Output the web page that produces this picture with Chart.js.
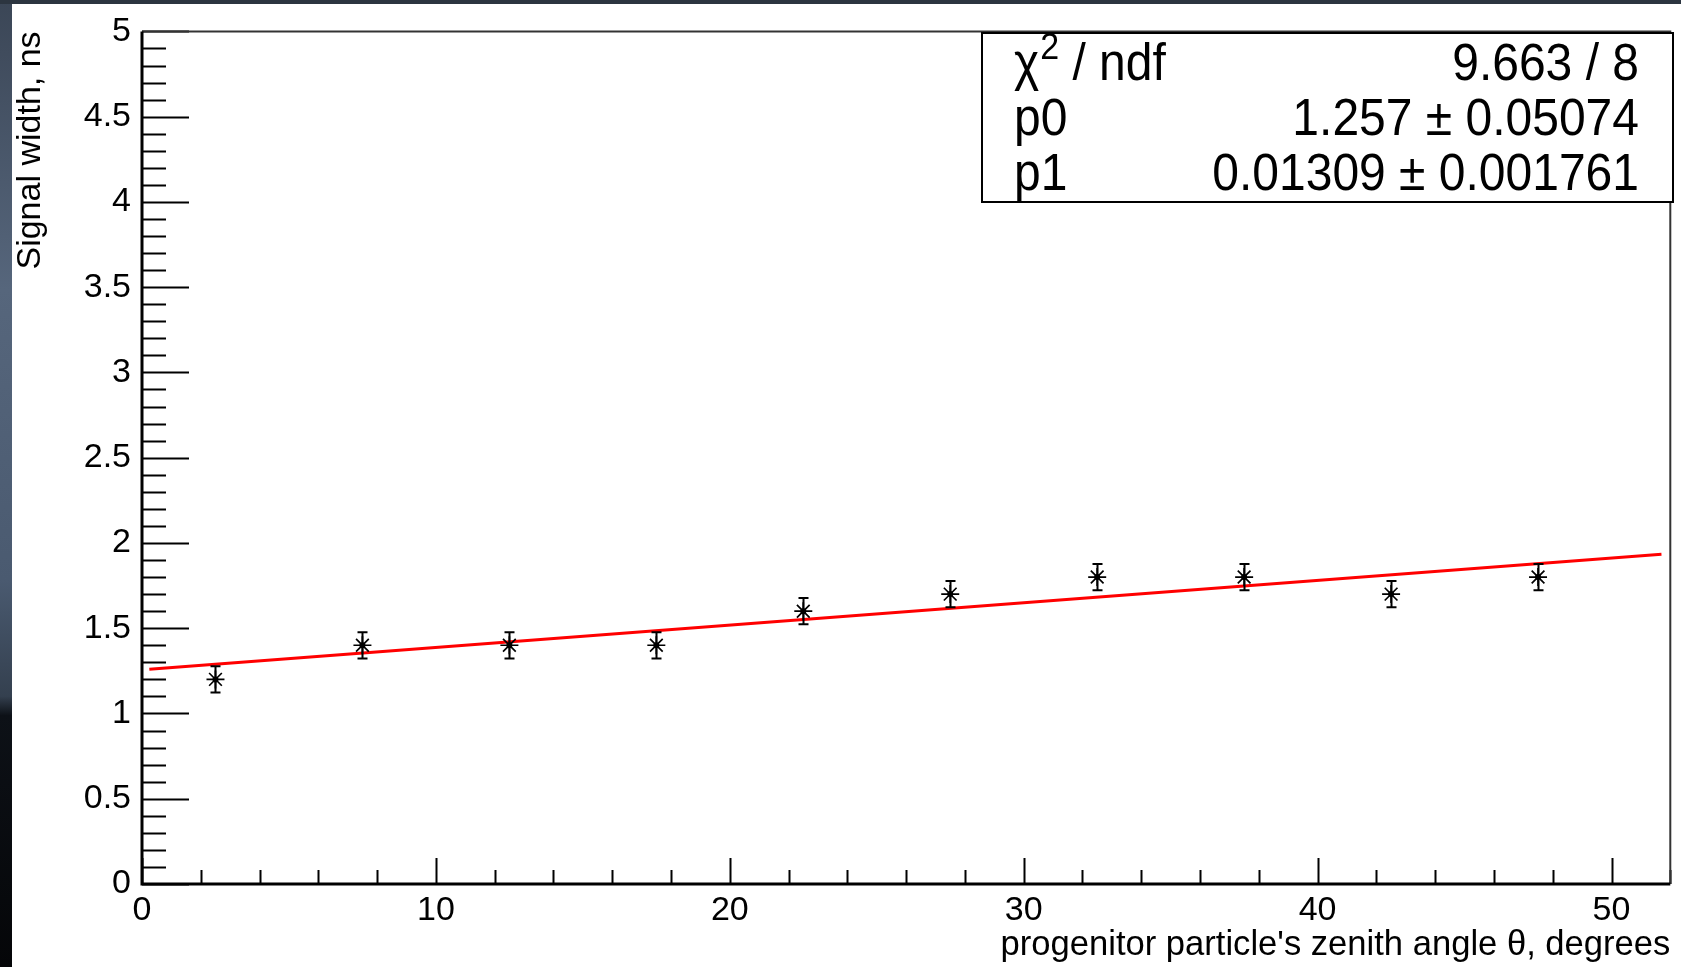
<!DOCTYPE html>
<html>
<head>
<meta charset="utf-8">
<script src="https://cdn.jsdelivr.net/npm/chart.js@4.4.1/dist/chart.umd.min.js"></script>
<style>
  html, body { margin: 0; padding: 0; background: #fff; }
  canvas { display: block; }
</style>
</head>
<body>
<canvas id="plot" width="1681" height="967"></canvas>
<script>
// zenith angle bin centres (degrees) and mean signal width (ns)
const angles = [2.5, 7.5, 12.5, 17.5, 22.5, 27.5, 32.5, 37.5, 42.5, 47.5];
const widths = [1.2, 1.4, 1.4, 1.4, 1.6, 1.7, 1.8, 1.8, 1.7, 1.8];
const widthErrors = [0.077, 0.077, 0.077, 0.077, 0.077, 0.077, 0.077, 0.077, 0.077, 0.077];

// pol1 fit line, as drawn
const fitX = [0.25, 51.7];
const fitY = [1.260, 1.934];

const xTicks = [0, 10, 20, 30, 40, 50];
const yTicks = [0, 0.5, 1, 1.5, 2, 2.5, 3, 3.5, 4, 4.5, 5];

const statNames = ['χ', 'p0', 'p1'];
const statValues = ['9.663 / 8', '1.257 ± 0.05074', '0.01309 ± 0.001761'];

const FONT = '"Liberation Sans", Arial, Helvetica, sans-serif';

// photo background peeking out at the left and top edges
const backdrop = {
  id: 'backdrop',
  beforeDraw(chart) {
    const ctx = chart.ctx;
    ctx.save();
    ctx.fillStyle = '#fff';
    ctx.fillRect(0, 0, chart.width, chart.height);
    const g = ctx.createLinearGradient(0, 0, 0, chart.height);
    g.addColorStop(0, '#3b4656');
    g.addColorStop(0.3, '#56667c');
    g.addColorStop(0.6, '#4a5a70');
    g.addColorStop(0.72, '#34404f');
    g.addColorStop(0.74, '#0d1117');
    g.addColorStop(1, '#050608');
    ctx.fillStyle = g;
    ctx.fillRect(0, 0, 12, chart.height);
    ctx.fillStyle = '#2c3540';
    ctx.fillRect(0, 0, chart.width, 4);
    ctx.restore();
  }
};

// ROOT style frame with ticks pointing inwards
const frame = {
  id: 'frame',
  beforeDatasetsDraw(chart) {
    const { ctx, chartArea: a, scales: { x, y } } = chart;
    ctx.save();
    ctx.strokeStyle = '#000';
    ctx.lineWidth = 2;
    ctx.beginPath();
    for (let i = 0; i <= 50; i++) {
      const py = Math.round(y.getPixelForValue(i / 10)) + 0.5;
      const len = i % 5 === 0 ? 47 : 24;
      ctx.moveTo(a.left, py);
      ctx.lineTo(a.left + len, py);
    }
    for (let v = 0; v <= 52; v += 2) {
      const px = Math.round(x.getPixelForValue(v)) + 0.5;
      const len = v % 10 === 0 ? 26 : 14;
      ctx.moveTo(px, a.bottom);
      ctx.lineTo(px, a.bottom - len);
    }
    ctx.stroke();

    ctx.strokeStyle = '#333';
    ctx.lineWidth = 2;
    ctx.beginPath();
    ctx.moveTo(a.left, a.top);
    ctx.lineTo(a.right, a.top);
    ctx.lineTo(a.right, a.bottom);
    ctx.stroke();
    ctx.strokeStyle = '#000';
    ctx.lineWidth = 3;
    ctx.beginPath();
    ctx.moveTo(a.left, a.top);
    ctx.lineTo(a.left, a.bottom);
    ctx.lineTo(a.right, a.bottom);
    ctx.stroke();
    ctx.restore();
  }
};

const errorBars = {
  id: 'errorBars',
  afterDatasetsDraw(chart) {
    const { ctx, scales: { x, y } } = chart;
    ctx.save();
    ctx.strokeStyle = '#000';
    ctx.lineWidth = 2;
    ctx.beginPath();
    angles.forEach((a, i) => {
      const px = Math.round(x.getPixelForValue(a)) + 0.5;
      const top = y.getPixelForValue(widths[i] + widthErrors[i]);
      const bot = y.getPixelForValue(widths[i] - widthErrors[i]);
      ctx.moveTo(px, top); ctx.lineTo(px, bot);
      ctx.moveTo(px - 5, top); ctx.lineTo(px + 5, top);
      ctx.moveTo(px - 5, bot); ctx.lineTo(px + 5, bot);
    });
    ctx.stroke();
    ctx.restore();
  }
};

const statsBox = {
  id: 'statsBox',
  afterDraw(chart) {
    const ctx = chart.ctx;
    const box = { left: 982, top: 33, right: 1673, bottom: 202 };
    const baselines = [80, 135, 190];
    ctx.save();
    ctx.fillStyle = '#fff';
    ctx.fillRect(box.left, box.top, box.right - box.left, box.bottom - box.top);
    ctx.strokeStyle = '#000';
    ctx.lineWidth = 2;
    ctx.strokeRect(box.left, box.top, box.right - box.left, box.bottom - box.top);
    ctx.fillStyle = '#000';
    ctx.textBaseline = 'alphabetic';
    statNames.forEach((name, i) => {
      ctx.save();
      // ROOT text is a little taller than Liberation at the same width
      ctx.translate(0, baselines[i]);
      ctx.scale(1, 1.08);
      ctx.font = '48px ' + FONT;
      ctx.textAlign = 'left';
      ctx.fillText(name, 1014, 0);
      if (i === 0) {
        const w = ctx.measureText(name).width;
        ctx.font = '34px ' + FONT;
        ctx.fillText('2', 1014 + w + 1, -19);
        const w2 = ctx.measureText('2').width;
        ctx.font = '48px ' + FONT;
        ctx.fillText(' / ndf', 1014 + w + w2 + 1, 0);
      }
      ctx.textAlign = 'right';
      ctx.fillText(statValues[i], 1639, 0);
      ctx.restore();
    });
    ctx.restore();
  }
};

new Chart(document.getElementById('plot'), {
  type: 'scatter',
  data: {
    datasets: [
      {
        type: 'line',
        data: fitX.map((v, i) => ({ x: v, y: fitY[i] })),
        borderColor: '#ff0000',
        borderWidth: 3,
        pointRadius: 0,
        fill: false,
        order: 3
      },
      {
        data: angles.map((v, i) => ({ x: v, y: widths[i] })),
        pointStyle: 'star',
        pointRadius: 9,
        borderColor: '#000',
        borderWidth: 1.7,
        backgroundColor: '#000',
        order: 2
      },
      {
        data: angles.map((v, i) => ({ x: v, y: widths[i] })),
        pointStyle: 'circle',
        pointRadius: 3,
        borderWidth: 0,
        backgroundColor: '#000',
        order: 1
      }
    ]
  },
  options: {
    responsive: false,
    animation: false,
    devicePixelRatio: 1,
    layout: { padding: { top: 28, right: 8, left: 0, bottom: 0 } },
    plugins: { legend: { display: false }, tooltip: { enabled: false } },
    scales: {
      x: {
        type: 'linear',
        min: 0,
        max: 52,
        grid: { display: false, drawTicks: false, tickLength: 0 },
        border: { display: false },
        afterBuildTicks: s => { s.ticks = xTicks.map(v => ({ value: v })); },
        afterFit: s => { s.height = 83; },
        ticks: {
          color: '#000',
          font: { family: FONT, size: 34 },
          padding: 6,
          maxRotation: 0,
          callback: v => String(v)
        },
        title: {
          display: true,
          text: "progenitor particle's zenith angle θ, degrees",
          align: 'end',
          color: '#000',
          font: { family: FONT, size: 34.6 },
          padding: { top: 0, bottom: 1 }
        }
      },
      y: {
        type: 'linear',
        min: 0,
        max: 5,
        grid: { display: false, drawTicks: false, tickLength: 0 },
        border: { display: false },
        afterBuildTicks: s => { s.ticks = yTicks.map(v => ({ value: v })); },
        afterFit: s => { s.width = 142; },
        ticks: {
          color: '#000',
          font: { family: FONT, size: 34 },
          padding: 11,
          callback: v => String(v)
        },
        title: {
          display: true,
          text: 'Signal width, ns',
          align: 'end',
          color: '#000',
          font: { family: FONT, size: 34 },
          padding: { top: 10, bottom: 0 }
        }
      }
    }
  },
  plugins: [backdrop, frame, errorBars, statsBox]
});
</script>
</body>
</html>
